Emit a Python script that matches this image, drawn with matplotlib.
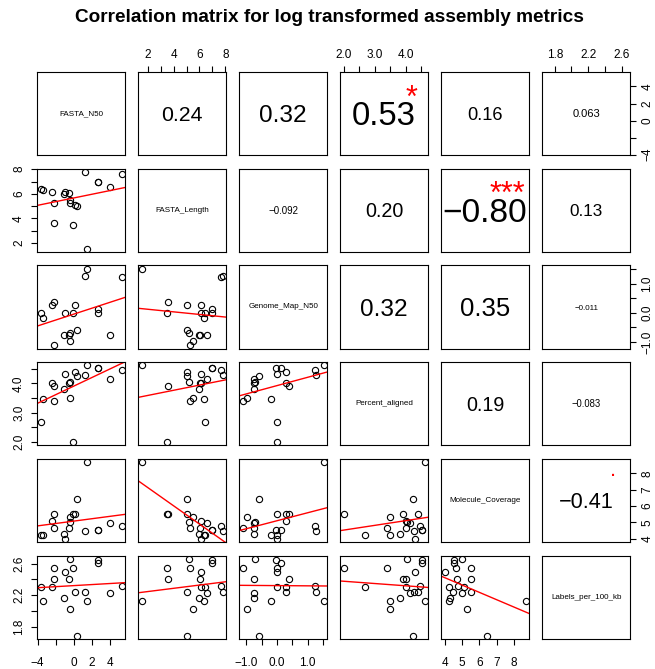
import matplotlib
matplotlib.use("Agg")
import matplotlib.pyplot as plt
import numpy as np

plt.rcParams['font.family'] = ['Liberation Sans', 'DejaVu Sans']

variables = ["FASTA_N50", "FASTA_Length", "Genome_Map_N50",
             "Percent_aligned", "Molecule_Coverage", "Labels_per_100_kb"]

fasta_n50 = [-3.67, -3.41, -2.45, -2.19, -2.15, -1.04, -0.95, -0.47, -0.40, -0.37,
             -0.02, 0.15, 0.37, 1.26, 1.50, 2.69, 2.71, 4.07, 5.33]
fasta_length = [6.41, 6.35, 6.14, 5.27, 3.59, 5.97, 6.14, 6.05, 5.49, 5.22,
                3.50, 5.06, 5.05, 7.79, 1.54, 6.97, 6.97, 6.58, 7.65]
genome_map_n50 = [0.01, -0.19, 0.28, -1.12, 0.38, -0.75, 0.00, -0.75, -0.98, -0.71,
                  0.00, 0.28, -0.59, 1.28, 1.52, -0.02, 0.12, -0.76, 1.22]
percent_aligned = [2.68, 3.48, 4.01, 3.41, 3.90, 3.82, 4.32, 4.02, 3.49, 4.06,
                   1.99, 4.39, 4.25, 4.28, 4.62, 4.52, 4.52, 4.14, 4.47]
molecule_coverage = [4.25, 4.25, 5.11, 4.64, 5.52, 4.29, 3.98, 4.68, 5.31, 5.01,
                     5.52, 5.54, 6.46, 4.45, 8.70, 4.51, 4.51, 4.97, 4.76]
labels_per_100_kb = [2.30, 2.13, 2.31, 2.54, 2.40, 2.17, 2.50, 2.41, 2.03, 2.66,
                     2.55, 2.245, 1.69, 2.245, 2.13, 2.65, 2.61, 2.23, 2.32]

# upper-triangle correlation labels (row, col, value text, r, significance)
corr_rows = [0, 0, 0, 0, 0, 1, 1, 1, 1, 2, 2, 2, 3, 3, 4]
corr_cols = [1, 2, 3, 4, 5, 2, 3, 4, 5, 3, 4, 5, 4, 5, 5]
corr_values = [0.24, 0.32, 0.53, 0.16, 0.063, -0.092, 0.20, -0.80, 0.13,
               0.32, 0.35, -0.011, 0.19, -0.083, -0.41]
corr_text = ["0.24", "0.32", "0.53", "0.16", "0.063", "\u22120.092", "0.20", "\u22120.80", "0.13",
             "0.32", "0.35", "\u22120.011", "0.19", "\u22120.083", "\u22120.41"]
corr_signif = ["", "", "*", "", "", "", "", "***", "", "", "", "", "", "", "."]

# axis ticks per variable
var_ticks = [[-4, -2, 0, 2, 4],
             [2, 3, 4, 5, 6, 7, 8],
             [-1.0, -0.5, 0.0, 0.5, 1.0, 1.5],
             [2.0, 2.5, 3.0, 3.5, 4.0, 4.5],
             [4, 5, 6, 7, 8],
             [1.8, 2.0, 2.2, 2.4, 2.6]]
var_ticklabels = [["\u22124", "", "0", "2", "4"],
                  ["2", "", "4", "", "6", "", "8"],
                  ["\u22121.0", "", "0.0", "", "1.0", ""],
                  ["2.0", "", "3.0", "", "4.0", ""],
                  ["4", "5", "6", "7", "8"],
                  ["1.8", "", "2.2", "", "2.6"]]

data = [fasta_n50, fasta_length, genome_map_n50, percent_aligned,
        molecule_coverage, labels_per_100_kb]

W, H = 655, 669
fig = plt.figure(figsize=(W / 100, H / 100), dpi=100)
renderer = fig.canvas.get_renderer()

col_left = [37.3 + 101.0 * k for k in range(6)]
row_top = [72.0 + 96.75 * k for k in range(6)]
pw, ph = 87.7, 83.0


def rng(v):
    v = np.asarray(v, dtype=float)
    lo, hi = v.min(), v.max()
    r = hi - lo
    return lo - 0.04 * r, hi + 0.04 * r


tick_kw = dict(direction='out', length=4.5, width=0.8, labelsize=8.5, colors='black')

axes = {}
for i in range(6):
    for j in range(6):
        ax = fig.add_axes([col_left[j] / W, 1 - (row_top[i] + ph) / H, pw / W, ph / H])
        axes[(i, j)] = ax
        ax.set_xlim(rng(data[j]))
        ax.set_ylim(rng(data[i]))
        ax.set_xticks([])
        ax.set_yticks([])
        for s in ax.spines.values():
            s.set_linewidth(0.8)
        if i == j:
            ax.text(0.5, 0.5, variables[i], transform=ax.transAxes, ha='center',
                    va='center', fontsize=5.8)
        elif i > j:
            x = np.asarray(data[j], dtype=float)
            y = np.asarray(data[i], dtype=float)
            ax.plot(x, y, 'o', mfc='none', mec='black', ms=4.5, mew=0.8)
            b, a = np.polyfit(x, y, 1)
            xs = np.array(ax.get_xlim())
            ax.plot(xs, a + b * xs, color='red', lw=1.0)
            ax.set_xlim(rng(data[j]))
            ax.set_ylim(rng(data[i]))

        if i == 0 and j % 2 == 1:
            ax.set_xticks(var_ticks[j])
            ax.set_xticklabels(var_ticklabels[j])
            ax.tick_params(axis='x', top=True, labeltop=True, bottom=False,
                           labelbottom=False, pad=3.6, **tick_kw)
        if i == 5 and j % 2 == 0:
            ax.set_xticks(var_ticks[j])
            ax.set_xticklabels(var_ticklabels[j])
            ax.tick_params(axis='x', bottom=True, labelbottom=True, pad=8.5, **tick_kw)
        if j == 0 and i % 2 == 1:
            ax.set_yticks(var_ticks[i])
            ax.set_yticklabels(var_ticklabels[i], rotation=90, va='center')
            ax.tick_params(axis='y', left=True, labelleft=True, pad=4.3, **tick_kw)
        if j == 5 and i % 2 == 0:
            ax.set_yticks(var_ticks[i])
            ax.set_yticklabels(var_ticklabels[i], rotation=90, va='center')
            ax.tick_params(axis='y', right=True, labelright=True, left=False,
                           labelleft=False, pad=3.8, **tick_kw)

# correlation texts
K = 77.0  # px of text width per (|r| + 0.3)
for r_i, c_j, val, txt, sig in zip(corr_rows, corr_cols, corr_values, corr_text, corr_signif):
    ax = axes[(r_i, c_j)]
    probe = ax.text(0.5, 0.5, txt, transform=ax.transAxes, fontsize=10)
    wpx = probe.get_window_extent(renderer=renderer).width
    probe.remove()
    fs_num = 10 * K * (abs(val) + 0.3) / wpx
    ax.annotate(txt, xy=(0.5, 0.5), xycoords='axes fraction',
                xytext=(0, -0.358 * fs_num), textcoords='offset points',
                ha='center', va='baseline', fontsize=fs_num)
    if sig:
        if sig == ".":
            fs = 16
            ax.annotate(sig, xy=(0.81, 0.81), xycoords='axes fraction',
                        xytext=(0, -0.05 * fs), textcoords='offset points',
                        ha='center', va='baseline', fontsize=fs, color='red')
        else:
            fs = 22
            ux = 0.81 if sig == "*" else 0.755
            ax.annotate(sig, xy=(ux, 0.79), xycoords='axes fraction',
                        xytext=(0, -0.56 * fs), textcoords='offset points',
                        ha='center', va='baseline', fontsize=fs, color='red')

fig.text(0.5025, 1 - 17 / H, "Correlation matrix for log transformed assembly metrics",
         ha='center', va='center', fontsize=13.7, fontweight='bold')

fig.savefig("out.png", dpi=100)
